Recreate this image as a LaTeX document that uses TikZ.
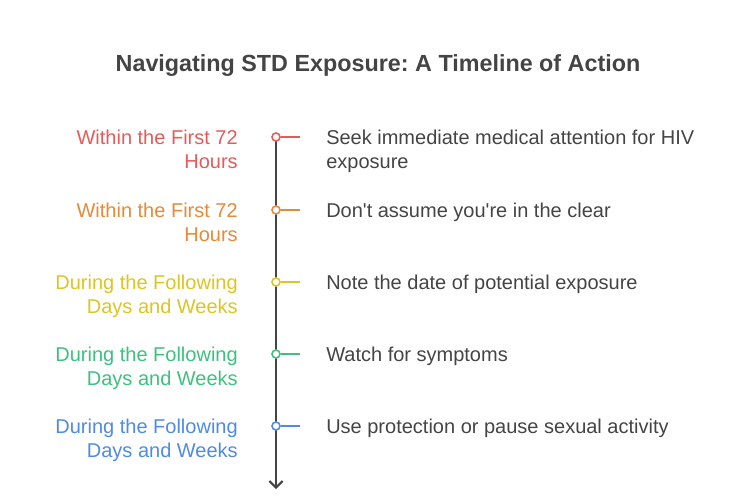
\documentclass[tikz,border=0pt]{standalone}
\usepackage{fontspec}
\setmainfont{Liberation Sans}
\usepackage{xcolor}
\usetikzlibrary{arrows.meta,positioning,calc}
\definecolor{inkgray}{HTML}{444444}
\definecolor{redc}{HTML}{E65B59}
\definecolor{orangec}{HTML}{E5893A}
\definecolor{yellowc}{HTML}{DCC424}
\definecolor{greenc}{HTML}{3EC07E}
\definecolor{bluec}{HTML}{4F8AE6}
\frenchspacing
\begin{document}
\begin{tikzpicture}[
  x=0.75pt, y=-0.75pt,
  font=\fontsize{15}{18}\selectfont,
  when/.style={anchor=base east, align=right, inner sep=0pt},
  todo/.style={anchor=base west, align=left, inner sep=0pt, text=inkgray},
  dot/.style={circle, draw, fill=white, line width=1.2pt, minimum size=6pt, inner sep=0pt},
  tick/.style={line width=1.5pt},
  spine/.style={-{Straight Barb[length=5pt, width=10pt, line width=1.5pt]}, line width=1.5pt, draw=inkgray}
]
\useasboundingbox (0,0) rectangle (756,500);
\node[font=\fontsize{17.5}{20}\bfseries, text=inkgray] (title) at (378,65.5) {Navigating STD Exposure: A Timeline of Action};
% spine
\coordinate (top) at (276,137);
\coordinate (bot) at (276,489);
\draw[spine] (top) -- (bot);
% rows (base anchor sits on the last line)
\node[when, text=redc] (t1) at (238,168.5) {Within the First 72\\Hours};
\node[when, text=orangec] (t2) at (238,241.5) {Within the First 72\\Hours};
\node[when, text=yellowc] (t3) at (238,313.5) {During the Following\\Days and Weeks};
\node[when, text=greenc] (t4) at (238,385.5) {During the Following\\Days and Weeks};
\node[when, text=bluec] (t5) at (238,457.5) {During the Following\\Days and Weeks};
\node[todo] (a1) at (326,168.5) {Seek immediate medical attention for HIV\\exposure};
\node[todo] (a2) at (326,217.5) {Don\textquotesingle t assume you\textquotesingle re in the clear};
\node[todo] (a3) at (326,289.5) {Note the date of potential exposure};
\node[todo] (a4) at (326,361.5) {Watch for symptoms};
\node[todo] (a5) at (326,433.5) {Use protection or pause sexual activity};
\coordinate (e1) at (300,137);
\coordinate (e2) at (300,210);
\coordinate (e3) at (300,282);
\coordinate (e4) at (300,354);
\coordinate (e5) at (300,426);
\node[dot, draw=redc] (d1) at (276,137) {};
\node[dot, draw=orangec] (d2) at (276,210) {};
\node[dot, draw=yellowc] (d3) at (276,282) {};
\node[dot, draw=greenc] (d4) at (276,354) {};
\node[dot, draw=bluec] (d5) at (276,426) {};
\draw[tick, redc] (d1) -- (e1);
\draw[tick, orangec] (d2) -- (e2);
\draw[tick, yellowc] (d3) -- (e3);
\draw[tick, greenc] (d4) -- (e4);
\draw[tick, bluec] (d5) -- (e5);
\end{tikzpicture}
\end{document}
